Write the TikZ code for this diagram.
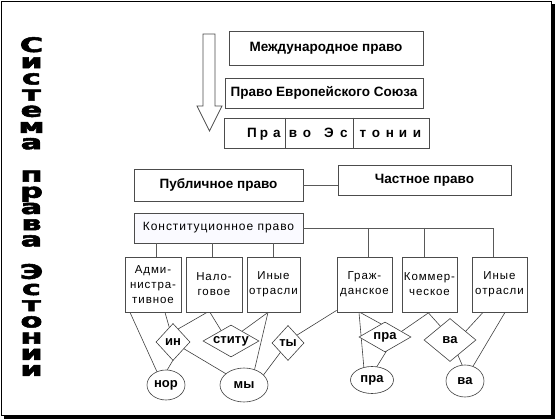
\documentclass[tikz,border=0pt]{standalone}
\usepackage{fontspec}
\setmainfont{Liberation Sans}
\newfontfamily\spaced[LetterSpace=8]{Liberation Sans}
\newfontfamily\heavy[BoldFeatures={FakeBold=2.5}]{DejaVu Sans}
\usetikzlibrary{shapes.geometric,calc}
\pgfdeclarelayer{bg}
\pgfsetlayers{bg,main}
\begin{document}
\begin{tikzpicture}[x=1pt,y=-1pt,
  box/.style={draw=black!70, line width=0.8pt, fill=white, inner sep=0pt, align=center},
  bigtext/.style={font=\fontsize{13.5}{15}\selectfont\bfseries},
  smallbox/.style={box, minimum height=55, font=\fontsize{11.5}{15}\selectfont\spaced},
  dia/.style={diamond, draw=black!75, line width=0.6pt, fill=white, inner sep=0pt, font=\fontsize{13}{14}\selectfont\bfseries},
  ell/.style={ellipse, draw=black!75, line width=0.6pt, fill=white, inner sep=0pt, font=\fontsize{13}{14}\selectfont\bfseries},
  link/.style={draw=black!75, line width=0.6pt},
  tree/.style={draw=black!65, line width=0.9pt},
  vl/.style={inner sep=0pt, anchor=base},
  vt/.style={inner sep=0pt, anchor=base}
]
\path[use as bounding box] (0,0) rectangle (555,419);
% frame with shadow
\fill[black] (551,4) rectangle (555,419);
\fill[black] (4,415) rectangle (555,419);
\draw[line width=0.8pt] (1,1) rectangle (551,415);

% vertical title
\newcommand\vletter[1]{\scalebox{1.6}[1]{\fontsize{20}{20}\selectfont\heavy\bfseries #1}}
\foreach \ch [count=\i from 0] in {С,и,с,т,е,м,а}
  \node[vt] (ta\i) at (31.5,{52+16.2*\i}) {\vletter{\ch}};
\foreach \ch [count=\i from 8] in {п,р,а,в,а}
  \node[vt] (tb\i) at (31.5,{52+16.2*\i}) {\vletter{\ch}};
\foreach \ch [count=\i from 14] in {Э,с,т,о,н,и,и}
  \node[vt] (tc\i) at (31.5,{52+16.2*\i}) {\vletter{\ch}};

% hollow arrow
\draw[draw=black!70, line width=0.8pt, fill=white] (203,34) -- (215,34) -- (215,106) -- (222,106) -- (209.5,131) -- (197,106) -- (203,106) -- cycle;

% top boxes
\node[box, bigtext, minimum width=194, minimum height=34] (intl) at (326,48) {Международное право};
\node[box, bigtext, minimum width=198, minimum height=30] (eu) at (324,93) {Право Европейского Союза};
\node[box, minimum width=205, minimum height=30] (est) at (326.5,133) {};
\draw[draw=black!70, line width=0.8pt] ($(est.north west)+(62,0)$) -- ($(est.south west)+(62,0)$);
\draw[draw=black!70, line width=0.8pt] ($(est.north west)+(130,0)$) -- ($(est.south west)+(130,0)$);
\foreach \ch/\xx [count=\k] in {П/252,р/264,а/277,в/293,о/307,Э/329,с/344,т/363,о/376,н/390,и/403,и/417}
  \node[vl, bigtext] (el\k) at (\xx,138) {\ch};

\node[box, bigtext, minimum width=169, minimum height=32] (pub) at (218.5,185) {Публичное право};
\node[box, bigtext, minimum width=173, minimum height=30] (priv) at (424.5,180) {Частное право};
\node[box, fill=blue!2, minimum width=169, minimum height=30, font=\fontsize{12}{14}\selectfont\spaced] (konst) at (218.5,228) {Конституционное право};

\node[smallbox, minimum width=56] (adm) at (153,284.5) {Адми-\\нистра-\\тивное};
\node[smallbox, minimum width=56] (nal) at (214,284.5) {Нало-\\говое};
\node[smallbox, minimum width=53] (oth1) at (273.5,284.5) {Иные\\отрасли};
\node[smallbox, minimum width=55] (civ) at (364.5,284.5) {Граж-\\данское};
\node[smallbox, minimum width=55] (com) at (429.5,284.5) {Коммер-\\ческое};
\node[smallbox, minimum width=55] (oth2) at (499.5,284.5) {Иные\\отрасли};

% tree connectors
\draw[tree] ($(est.south west)+(35,0)$) -- ($(est.south west)+(35,0)$ |- pub.north);
\draw[tree] ($(est.south west)+(170,0)$) -- ($(est.south west)+(170,0)$ |- priv.north);
\draw[tree] (pub.east) -- (pub.east -| priv.west);
\draw[tree] (konst.east) -- ($(konst.east -| oth2.north)+(-6.5,0)$) -- ($(oth2.north)+(-6.5,0)$);
\draw[tree] ($(konst.east -| civ.north)+(3.5,0)$) -- ($(civ.north)+(3.5,0)$);
\draw[tree] ($(konst.east -| com.north)+(-5.5,0)$) -- ($(com.north)+(-5.5,0)$);
\draw[tree] ($(konst.south -| adm.north)+(3,0)$) -- ($(adm.north)+(3,0)$);
\draw[tree] ($(konst.south -| nal.north)+(-2,0)$) -- ($(nal.north)+(-2,0)$);
\draw[tree] (konst.south -| oth1.north) -- (oth1.north);

% diamonds and ellipses
\node[dia, minimum width=34, minimum height=37] (in) at (173,342) {\makebox[0pt]{ин}};
\node[dia, minimum width=56, minimum height=32] (stitu) at (231,341) {\makebox[0pt]{ститу}};
\node[dia, minimum width=32, minimum height=35] (ty) at (288,343) {\makebox[0pt]{ты}};
\node[dia, minimum width=52, minimum height=30] (pra1) at (385,337) {\makebox[0pt]{пра}};
\node[dia, minimum width=52, minimum height=43] (va1) at (450,340) {\makebox[0pt]{ва}};
\node[ell, minimum width=38, minimum height=30] (nor) at (166,385) {\makebox[0pt]{нор}};
\node[ell, minimum width=48, minimum height=34] (my) at (244,385) {\makebox[0pt]{мы}};
\node[ell, minimum width=43, minimum height=27] (pra2) at (372,380) {\makebox[0pt]{пра}};
\node[ell, minimum width=38, minimum height=32] (va2) at (465,381) {\makebox[0pt]{ва}};

\begin{pgfonlayer}{bg}
\draw[link] ($(adm.south)+(-23,0)$) -- ($(nor.center)+(-8,-11)$);
\draw[link] ($(adm.south)+(12,0)$) -- ($(in.center)+(-3,-12)$);
\draw[link] ($(nal.south)+(-7,0)$) -- ($(in.center)+(3,-11.8)$);
\draw[link] ($(nal.south)+(-4,0)$) -- ($(stitu.center)+(-9,-9)$);
\draw[link] ($(oth1.south)+(-5.5,0)$) -- ($(stitu.center)+(10,-9)$);
\draw[link] ($(oth1.south)+(-5.5,0)$) -- ($(my.center)+(10,-13)$);
\draw[link] ($(in.center)+(8,5)$) -- ($(my.center)+(-16,-10)$);
\draw[link] ($(nor.center)+(0,-13)$) -- ($(in.center)+(6,8)$);
\draw[link] ($(my.center)+(18,-8)$) -- ($(ty.center)+(-5,6)$);
\draw[link] ($(ty.center)+(6,-6)$) -- ($(civ.south west)+(0,-2)$);
\draw[link] ($(civ.south)+(-5.5,0)$) -- ($(pra2.center)+(-8,-11)$);
\draw[link] ($(civ.south)+(-4.5,0)$) -- ($(pra1.center)+(-2,-12)$);
\draw[link] ($(com.south)+(2.5,-2)$) -- ($(pra1.center)+(15,-4.5)$);
\draw[link] ($(com.south)+(-1.5,0)$) -- ($(va1.center)+(-8,-12)$);
\draw[link] ($(oth2.south)+(-16.5,0)$) -- ($(va1.center)+(15,-8)$);
\draw[link] ($(oth2.south)+(5.5,0)$) -- ($(va2.center)+(7,-13)$);
\draw[link] ($(va1.center)+(7,13)$) -- ($(va2.center)+(-2,-14)$);
\draw[link] ($(pra1.center)+(4,10)$) -- ($(pra2.center)+(4,-12)$);
\end{pgfonlayer}
\end{tikzpicture}
\end{document}
